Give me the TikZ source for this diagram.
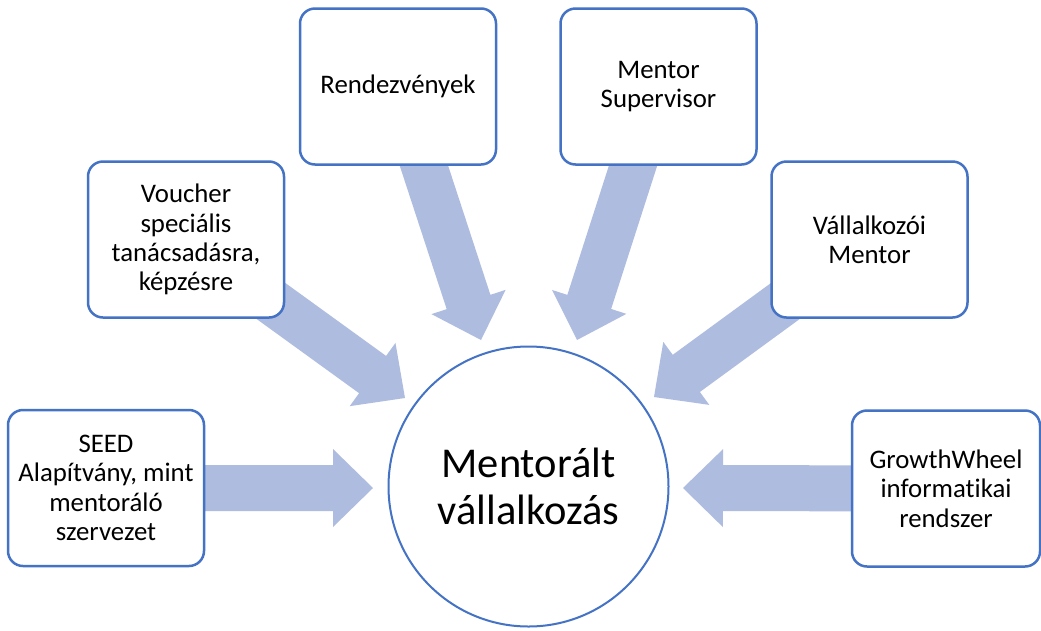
\documentclass[tikz,border=0pt]{standalone}
\usepackage{fontspec}
\setmainfont{Carlito}[Ligatures=NoCommon]
\usetikzlibrary{calc,backgrounds}
\definecolor{bordercol}{RGB}{68,114,196}
\definecolor{arrowcol}{RGB}{174,188,223}
\tikzset{
  box/.style={draw=bordercol, line width=2.5pt, rounded corners=15pt, fill=white,
    minimum width=196pt, minimum height=156pt, align=center, inner sep=0pt,
    font=\fontsize{26.8}{29.3}\selectfont, text=black},
  hub/.style={draw=bordercol, line width=2pt, circle, fill=white, minimum size=280pt,
    align=center, inner sep=0pt, font=\fontsize{42.5}{46.5}\selectfont, text=black},
  blockarrow/.style={fill=arrowcol}
}
\newcommand\barrow[2]{%
  \coordinate (h) at ($(#2)!40pt!(#1.center)$);
  \fill[blockarrow] ($(#1.center)!23pt!90:(#2)$) -- ($(h)!23pt!90:(#2)$) -- ($(h)!39pt!90:(#2)$) -- (#2)
    -- ($(h)!39pt!-90:(#2)$) -- ($(h)!23pt!-90:(#2)$) -- ($(#1.center)!23pt!-90:(#2)$) -- cycle;}
\begin{document}
\begin{tikzpicture}[x=1pt,y=-1pt]
  \useasboundingbox (0,0) rectangle (1041,630);
  % nodes
  \node[box] (seed) at (106,488) {SEED\\Alapítvány, mint\\mentoráló\\szervezet};
  \node[box] (vouch) at (186,239.5) {Voucher\\speciális\\tanácsadásra,\\képzésre};
  \node[box] (rend) at (398,86.5) {Rendezvények};
  \node[box] (ment) at (658.5,86.5) {Mentor\\Supervisor};
  \node[box] (vall) at (869.5,239.5) {Vállalkozói\\Mentor};
  \node[box, minimum width=188pt] (grow) at (946,488.5) {GrowthWheel\\informatikai\\rendszer};
  \node[hub] (hub) at (528.5,486.5) {Mentorált\\vállalkozás};
  % arrow tips
  \coordinate (t1) at (373,488);
  \coordinate (t2) at (481,340);
  \coordinate (t3) at (577,340);
  \coordinate (t4) at (405,398);
  \coordinate (t5) at (654,397);
  \coordinate (t6) at (683,488);
  \begin{pgfonlayer}{background}
    \fill[white] (0,0) rectangle (1041,630);
    \barrow{seed}{t1}
    \barrow{rend}{t2}
    \barrow{ment}{t3}
    \barrow{vouch}{t4}
    \barrow{vall}{t5}
    \barrow{grow}{t6}
  \end{pgfonlayer}
\end{tikzpicture}
\end{document}
